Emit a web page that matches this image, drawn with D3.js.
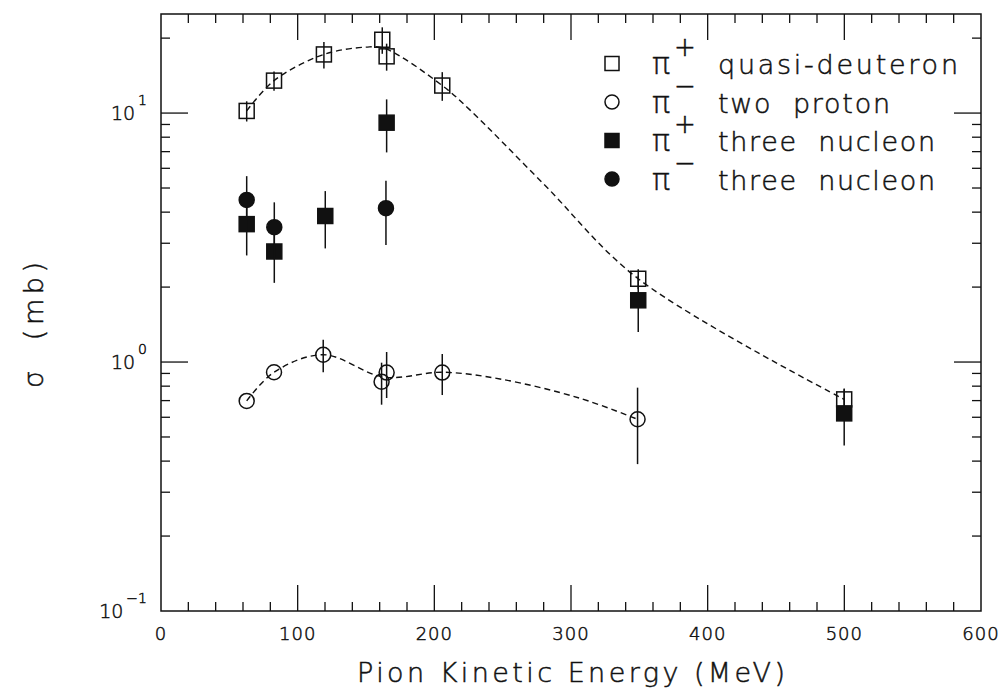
<!DOCTYPE html>
<html>
<head>
<meta charset="utf-8">
<script src="https://cdn.jsdelivr.net/npm/d3@7"></script>
<style>
  html, body { margin: 0; padding: 0; background: #fff; }
  svg text { font-family: "DejaVu Sans", "Open Sans", sans-serif; font-weight: 200; fill: #111;
             stroke: #111; stroke-width: 0.5px; }
</style>
</head>
<body>
<svg id="chart" width="1005" height="689"></svg>
<script>
// π+ quasi-deuteron (open squares)
const qdE   = [62.7, 82.7, 119.2, 161.9, 165.1, 205.8, 349.2, 499.9];
const qdSig = [10.2, 13.5, 17.2, 19.7, 16.9, 12.9, 2.16, 0.708];
const qdErr = [0.95, 1.2, 2.1, 2.4, 2.1, 1.7, 0.2, 0.07];

// π− two proton (open circles)
const tpE   = [62.7, 82.7, 118.7, 161.4, 165.1, 205.8, 348.7];
const tpSig = [0.698, 0.910, 1.07, 0.834, 0.907, 0.907, 0.589];
const tpErr = [0, 0, 0.16, 0.16, 0.19, 0.17, 0.2];

// π+ three nucleon (filled squares)
const p3E   = [62.7, 82.9, 120.2, 165.1, 349.2, 499.9];
const p3Sig = [3.58, 2.78, 3.86, 9.15, 1.77, 0.622];
const p3Err = [0.9, 0.7, 1.0, 2.2, 0.45, 0.16];

// π− three nucleon (filled circles)
const m3E   = [62.7, 82.9, 164.6];
const m3Sig = [4.48, 3.48, 4.15];
const m3Err = [1.1, 0.9, 1.2];

// smooth guide curves (knots along the dashed lines)
const fitQdE   = [62.7, 82.7, 119.2, 150, 163.5, 205.8, 226, 280, 349.2, 499.9];
const fitQdSig = [10.2, 13.5, 17.2, 18.4, 18.2, 12.9, 10.3, 5.19, 2.16, 0.708];
const fitTpE   = [62.7, 82.7, 118.7, 163, 205.8, 248, 306, 348.7];
const fitTpSig = [0.698, 0.91, 1.07, 0.87, 0.91, 0.855, 0.717, 0.589];

const xTicks = [0, 100, 200, 300, 400, 500, 600];
const yTicks = [0.1, 1, 10];
const yTickExp = ["−1", "0", "1"];

const legendSym = ["openSquare", "openCircle", "filledSquare", "filledCircle"];
const legendSign = ["+", "−", "+", "−"];
const legendText = ["quasi-deuteron", "two proton", "three nucleon", "three nucleon"];
const legendWidth = [240, 172, 217, 217];

const svg = d3.select("#chart");
const L = 161, R = 981, T = 14, B = 611;

const x = d3.scaleLinear().domain([0, 600]).range([L, R]);
const y = d3.scaleLog().domain([0.1, 25]).range([B, T]);

const ink = "#111";
const g = svg.append("g");

// frame
g.append("rect").attr("x", L).attr("y", T).attr("width", R - L).attr("height", B - T)
  .attr("fill", "none").attr("stroke", ink).attr("stroke-width", 1.5);

// x ticks: minor every 20, major every 100, on bottom and top
const xMinor = d3.range(20, 600, 20).filter(v => v % 100 !== 0);
const xMajor = xTicks.filter(v => v > 0 && v < 600);
const tickG = g.append("g").attr("stroke", ink).attr("stroke-width", 1.3);
xMinor.forEach(v => {
  tickG.append("line").attr("x1", x(v)).attr("x2", x(v)).attr("y1", B).attr("y2", B - 9);
  tickG.append("line").attr("x1", x(v)).attr("x2", x(v)).attr("y1", T).attr("y2", T + 9);
});
xMajor.forEach(v => {
  tickG.append("line").attr("x1", x(v)).attr("x2", x(v)).attr("y1", B).attr("y2", B - 26);
  tickG.append("line").attr("x1", x(v)).attr("x2", x(v)).attr("y1", T).attr("y2", T + 26);
});

// y ticks: log minors 2..9 per decade, majors at decades
const yMinor = [];
[0.1, 1, 10].forEach(d => { for (let k = 2; k <= 9; k++) { const v = d * k; if (v < 25) yMinor.push(v); } });
yMinor.forEach(v => {
  tickG.append("line").attr("x1", L).attr("x2", L + 9).attr("y1", y(v)).attr("y2", y(v));
  tickG.append("line").attr("x1", R).attr("x2", R - 9).attr("y1", y(v)).attr("y2", y(v));
});
yTicks.filter(v => v > 0.1).forEach(v => {
  tickG.append("line").attr("x1", L).attr("x2", L + 27).attr("y1", y(v)).attr("y2", y(v));
  tickG.append("line").attr("x1", R).attr("x2", R - 27).attr("y1", y(v)).attr("y2", y(v));
});

// x tick labels
g.selectAll(".xl").data(xTicks).enter().append("text")
  .attr("x", d => x(d)).attr("y", 640)
  .attr("text-anchor", "middle").attr("font-size", 18).attr("letter-spacing", 1)
  .text(d => d);

// y tick labels as powers of ten
yTicks.forEach((v, i) => {
  const t = g.append("text").attr("x", 147).attr("y", y(v) + 7)
    .attr("text-anchor", "end").attr("font-size", 19);
  t.append("tspan").text("10");
  t.append("tspan").attr("dy", -15).attr("font-size", 14).attr("dx", 3).text(yTickExp[i]);
});

// axis titles
g.append("text").attr("x", 357).attr("y", 682)
  .attr("font-size", 27).attr("textLength", 428).attr("lengthAdjust", "spacing")
  .text("Pion Kinetic Energy (MeV)");
g.append("text").attr("transform", "translate(43,388) rotate(-90)")
  .attr("font-size", 27).attr("textLength", 126).attr("lengthAdjust", "spacing")
  .attr("xml:space", "preserve")
  .text("σ  (mb)");

// dashed guide curves
const line = d3.line().x(d => x(d[0])).y(d => y(d[1])).curve(d3.curveCatmullRom.alpha(0.5));
const curves = [d3.zip(fitQdE, fitQdSig), d3.zip(fitTpE, fitTpSig)];
g.selectAll(".fit").data(curves).enter().append("path")
  .attr("d", line).attr("fill", "none").attr("stroke", ink)
  .attr("stroke-width", 1.4).attr("stroke-dasharray", "6,4");

// symbols
function drawSymbol(sel, kind, cx, cy, size) {
  const h = size / 2;
  if (kind === "openSquare" || kind === "filledSquare") {
    sel.append("rect").attr("x", cx - h).attr("y", cy - h).attr("width", size).attr("height", size)
      .attr("fill", kind === "filledSquare" ? ink : "none")
      .attr("stroke", ink).attr("stroke-width", 1.5);
  } else {
    sel.append("circle").attr("cx", cx).attr("cy", cy).attr("r", h)
      .attr("fill", kind === "filledCircle" ? ink : "none")
      .attr("stroke", ink).attr("stroke-width", 1.5);
  }
}

function drawSeries(E, S, Err, kind) {
  const sg = g.append("g");
  E.forEach((e, i) => {
    if (Err[i] > 0) {
      sg.append("line").attr("x1", x(e)).attr("x2", x(e))
        .attr("y1", y(S[i] + Err[i])).attr("y2", y(S[i] - Err[i]))
        .attr("stroke", ink).attr("stroke-width", 1.5);
    }
  });
  E.forEach((e, i) => drawSymbol(sg, kind, x(e), y(S[i]), 15));
}

drawSeries(qdE, qdSig, qdErr, "openSquare");
drawSeries(tpE, tpSig, tpErr, "openCircle");
drawSeries(p3E, p3Sig, p3Err, "filledSquare");
drawSeries(m3E, m3Sig, m3Err, "filledCircle");

// legend
const lg = g.append("g");
legendText.forEach((txt, i) => {
  const base = 74 + i * 38.5;
  drawSymbol(lg, legendSym[i], 612, base - 10.5, 14);
  lg.append("text").attr("x", 652).attr("y", base).attr("font-size", 30).text("π");
  lg.append("text").attr("x", 685).attr("y", base - 18).attr("text-anchor", "middle")
    .attr("font-size", 26).text(legendSign[i]);
  lg.append("text").attr("x", 718).attr("y", base).attr("font-size", 27)
    .attr("textLength", legendWidth[i]).attr("lengthAdjust", "spacing")
    .attr("xml:space", "preserve").text(txt.replace(" ", "  "));
});
</script>
</body>
</html>
